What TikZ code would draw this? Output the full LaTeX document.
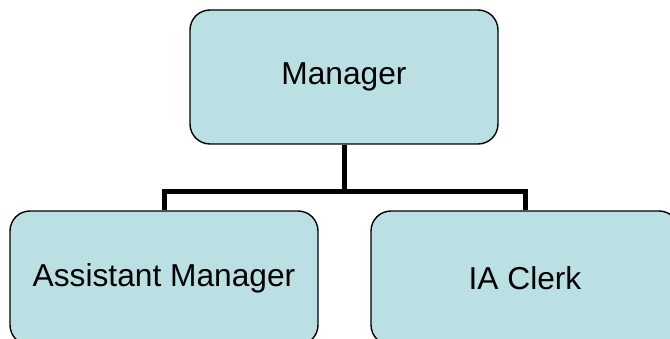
\documentclass[tikz,border=0pt]{standalone}
\usepackage{fontspec}
\setmainfont{Liberation Sans}
\definecolor{boxfill}{HTML}{BBE0E3}
\begin{document}
\begin{tikzpicture}[x=1pt,y=-1pt,
  orgbox/.style={draw=black,line width=1.4pt,fill=boxfill,rounded corners=20pt,
    minimum width=308pt,minimum height=134pt,inner sep=0pt,
    font=\fontsize{31.7}{38}\selectfont},
  link/.style={line width=5pt,black}]
\useasboundingbox (0,0) rectangle (670,339);
\clip (0,0) rectangle (670,339);
\node[orgbox] (mgr) at (344,77) {Manager};
\node[orgbox] (am) at (164,278) {Assistant Manager};
\node[orgbox] (ic) at (525,278) {IA Clerk};
\coordinate (bus) at (344,192);
\draw[link] (mgr.south) -- (bus);
\draw[link] (bus) -| (am.north);
\draw[link] (bus) -| (ic.north);
\end{tikzpicture}
\end{document}
